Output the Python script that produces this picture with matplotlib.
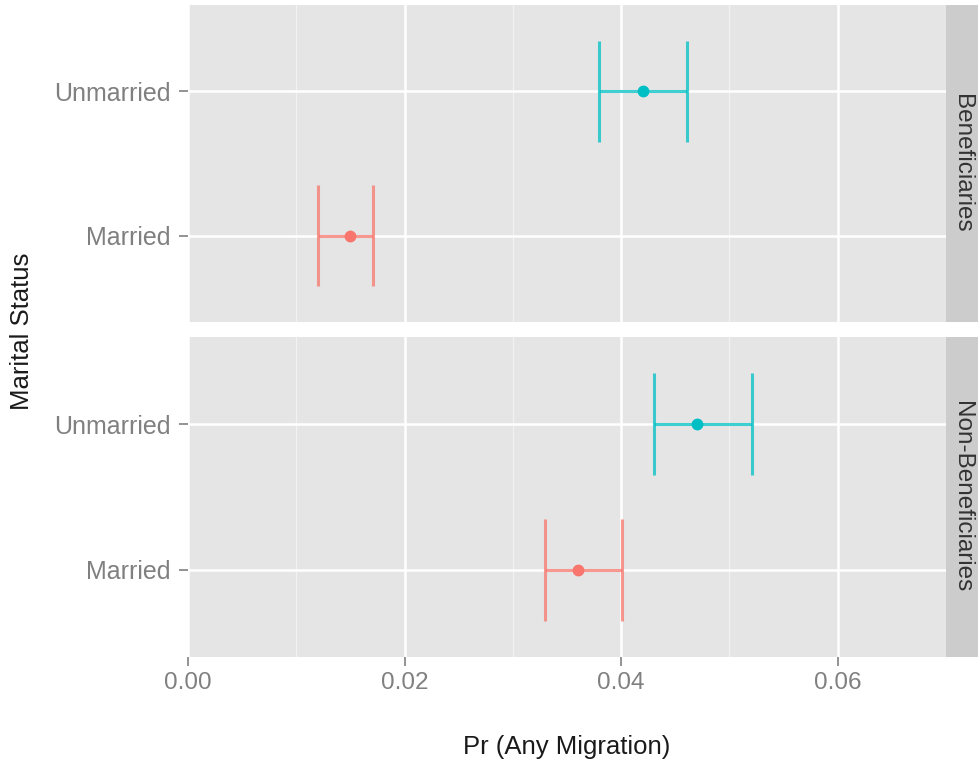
import matplotlib
matplotlib.use("Agg")
import matplotlib.pyplot as plt
import numpy as np

plt.rcParams['font.family'] = ['Liberation Sans', 'DejaVu Sans']

categories = ["Married", "Unmarried"]
facets = ["Beneficiaries", "Non-Beneficiaries"]
est = {"Beneficiaries": [0.0150, 0.0420], "Non-Beneficiaries": [0.0360, 0.0470]}
lo = {"Beneficiaries": [0.0120, 0.0380], "Non-Beneficiaries": [0.0330, 0.0430]}
hi = {"Beneficiaries": [0.0171, 0.0461], "Non-Beneficiaries": [0.0401, 0.0521]}
colors = ["#F8766D", "#00BFC4"]
xticks = [0.00, 0.02, 0.04, 0.06]
xtick_labels = ["0.00", "0.02", "0.04", "0.06"]

fig = plt.figure(figsize=(9.79, 7.63), dpi=100)
W, H = 979, 763
left, right, strip_r = 188, 946, 979
panels = [(5, 322), (337, 657)]

TICK_FS = 17.5
TITLE_FS = 18.5

for i, (facet, (t, b)) in enumerate(zip(facets, panels)):
    ax = fig.add_axes([left / W, 1 - b / H, (right - left) / W, (b - t) / H])
    ax.set_facecolor("#E5E5E5")
    ax.set_xlim(0, 0.07)
    ax.set_ylim(0.4, 2.6)
    for x in [0.01, 0.03, 0.05]:
        ax.axvline(x, color="#F2F2F2", lw=0.9, zorder=0)
    for x in xticks:
        ax.axvline(x, color="white", lw=1.8, zorder=0)
    ys = np.arange(1, len(categories) + 1)
    for y in ys:
        ax.axhline(y, color="white", lw=1.8, zorder=0)
    for j, y in enumerate(ys):
        c = colors[j]
        ax.hlines(y, lo[facet][j], hi[facet][j], color=c, lw=2.2, alpha=0.75, zorder=2)
        ax.vlines([lo[facet][j], hi[facet][j]], y - 0.35, y + 0.35, color=c, lw=2.2, alpha=0.75, zorder=2)
        ax.plot(est[facet][j], y, "o", color=c, ms=7.5, zorder=3)
    for s in ax.spines.values():
        s.set_visible(False)
    ax.set_yticks(ys)
    ax.set_yticklabels(categories, fontsize=18, color="#808080")
    ax.tick_params(axis="y", length=6.5, width=1.2, color="#808080", pad=6)
    ax.set_xticks(xticks)
    if i == 1:
        ax.set_xticklabels(xtick_labels, fontsize=TICK_FS, color="#808080")
        ax.tick_params(axis="x", length=6.5, width=1.2, color="#808080", pad=4)
    else:
        ax.tick_params(axis="x", length=0, labelbottom=False)
    # strip
    sax = fig.add_axes([right / W, 1 - b / H, (strip_r - right) / W, (b - t) / H])
    sax.set_facecolor("#CCCCCC")
    sax.set_xticks([]); sax.set_yticks([])
    for s in sax.spines.values():
        s.set_visible(False)
    sax.text(0.5, 0.5, facet, rotation=-90, ha="center", va="center",
             fontsize=17.5, color="#333333", transform=sax.transAxes)

fig.text((left + right) / 2 / W, 1 - 747 / H, "Pr (Any Migration)", ha="center", va="center",
         fontsize=TITLE_FS, color="#1A1A1A")
fig.text(22 / W, 1 - 331 / H, "Marital Status", rotation=90, ha="center", va="center",
         fontsize=TITLE_FS, color="#1A1A1A")

fig.savefig("out.png", dpi=100, facecolor="white")
